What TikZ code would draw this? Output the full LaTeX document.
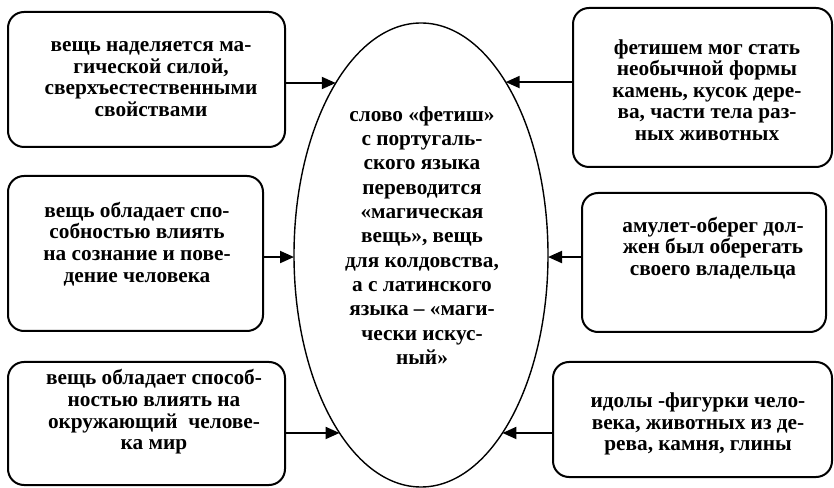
\documentclass[tikz,border=0pt]{standalone}
\usepackage{fontspec}
\setmainfont{Liberation Serif}
\usetikzlibrary{shapes.geometric,arrows.meta}
\begin{document}
\begin{tikzpicture}[x=1pt,y=1pt,
  box/.style={draw, line width=2pt, rounded corners=16pt, inner sep=0pt, outer sep=0pt},
  txt/.style={align=center, inner sep=0pt, font=\bfseries\fontsize{21.3}{21.6}\selectfont},
  ctxt/.style={align=center, inner sep=0pt, font=\bfseries\fontsize{21.3}{24.3}\selectfont},
  arr/.style={line width=2pt, -{Triangle[length=14pt,width=12pt]}}]
\useasboundingbox (0,0) rectangle (834,487);
% central ellipse
\node[draw, ellipse, line width=1.4pt, minimum width=254pt, minimum height=464pt, inner sep=0pt, outer sep=0pt] (c) at (421,232) {};
\node[ctxt] (ct) at (422,251.5) {слово «фетиш»\\с португаль-\\ского языка\\переводится\\«магическая\\вещь», вещь\\для колдовства,\\а с латинского\\языка – «маги-\\чески искус-\\ный»};
% boxes
\node[box, minimum width=277pt, minimum height=135pt] (tl) at (146.5,407.5) {};
\node[box, minimum width=259pt, minimum height=159pt] (tr) at (702.5,399.5) {};
\node[box, minimum width=255pt, minimum height=155pt] (ml) at (135.5,233.5) {};
\node[box, minimum width=244pt, minimum height=139pt] (mr) at (704,224.5) {};
\node[box, minimum width=277pt, minimum height=123pt] (bl) at (146.5,63.5) {};
\node[box, minimum width=279pt, minimum height=115pt] (br) at (692.5,67.5) {};
% texts
\node[txt] (tlt) at (151,408) {вещь наделяется ма-\\гической силой,\\сверхъестественными\\свойствами};
\node[txt] (trt) at (707,397) {фетишем мог стать\\необычной формы\\камень, кусок дере-\\ва, части тела раз-\\ных животных};
\node[txt] (mlt) at (137,243) {вещь обладает спо-\\собностью влиять\\на сознание и пове-\\дение человека};
\node[txt] (mrt) at (713,239) {амулет-оберег дол-\\жен был оберегать\\своего владельца};
\node[txt] (blt) at (154,75) {вещь обладает способ-\\ностью влиять на\\окружающий\ \ челове-\\ка мир};
\node[txt] (brt) at (698,63) {идолы -фигурки чело-\\века, животных из де-\\рева, камня, глины};
% points on the ellipse
\coordinate (a1) at ([shift={(132.15:127pt and 232pt)}]c.center);
\coordinate (a2) at ([shift={(48.2:127pt and 232pt)}]c.center);
\coordinate (a3) at ([shift={(180.5:127pt and 232pt)}]c.center);
\coordinate (a4) at ([shift={(-0.5:127pt and 232pt)}]c.center);
\coordinate (a5) at ([shift={(230.1:127pt and 232pt)}]c.center);
\coordinate (a6) at ([shift={(-50.1:127pt and 232pt)}]c.center);
% arrows
\draw[arr] (tl.east |- a1) -- (a1);
\draw[arr] (tr.west |- a2) -- (a2);
\draw[arr] (ml.east |- a3) -- (a3);
\draw[arr] (mr.west |- a4) -- (a4);
\draw[arr] (bl.east |- a5) -- (a5);
\draw[arr] (br.west |- a6) -- (a6);
\end{tikzpicture}
\end{document}
